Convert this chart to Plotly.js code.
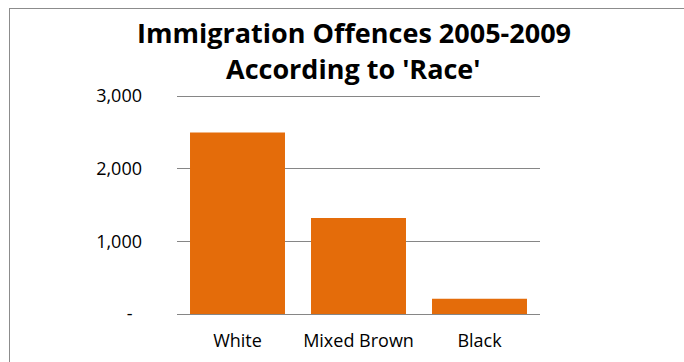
<!DOCTYPE html>
<html>
<head>
<meta charset="utf-8">
<script src="https://cdn.plot.ly/plotly-3.0.1.min.js"></script>
<style>
  html, body { margin: 0; padding: 0; background: #fff; }
  #wrap { position: relative; width: 684px; height: 362px; overflow: hidden; }
  #chart { width: 684px; height: 362px; }
  #frame { position: absolute; left: 9px; top: 8px; width: 700px; height: 400px;
           border-left: 1.5px solid #8c8c8c; border-top: 1.5px solid #8c8c8c; pointer-events: none; }
</style>
</head>
<body>
<div id="wrap">
  <div id="chart"></div>
  <div id="frame"></div>
</div>
<script>
const categories = ['White', 'Mixed Brown', 'Black'];
const offences = [2500, 1320, 210];
const yTickVals = [0, 1000, 2000, 3000];
const yTickText = ['-\u00a0\u00a0', '1,000', '2,000', '3,000'];
const titleLines = ['Immigration Offences 2005-2009', "According to 'Race'"];

const trace = {
  type: 'bar',
  x: categories,
  y: offences,
  marker: { color: '#E46C0A' },
  hoverinfo: 'none'
};

const titleFont = { family: 'Open Sans, sans-serif', size: 27, color: '#000000', weight: 'bold' };

const layout = {
  width: 684,
  height: 362,
  margin: { l: 177, r: 144, t: 95, b: 48, pad: 0 },
  paper_bgcolor: '#ffffff',
  plot_bgcolor: '#ffffff',
  showlegend: false,
  bargap: 0.215,
  font: { family: 'Open Sans, sans-serif', size: 18, color: '#000000' },
  annotations: [
    { text: titleLines[0], xref: 'paper', yref: 'paper', x: 0.4876, y: 1.285,
      xanchor: 'center', yanchor: 'middle', showarrow: false, font: titleFont },
    { text: titleLines[1], xref: 'paper', yref: 'paper', x: 0.4876, y: 1.121,
      xanchor: 'center', yanchor: 'middle', showarrow: false, font: titleFont }
  ],
  xaxis: {
    showgrid: false,
    showline: false,
    zeroline: false,
    ticks: '',
    ticklabelstandoff: 14,
    tickfont: { family: 'Open Sans, sans-serif', size: 18, color: '#000000' }
  },
  yaxis: {
    range: [0, 3015],
    tickvals: yTickVals,
    ticktext: yTickText,
    showgrid: true,
    gridcolor: '#868686',
    gridwidth: 1,
    zeroline: true,
    zerolinecolor: '#868686',
    zerolinewidth: 1,
    showline: false,
    ticks: '',
    ticklabelstandoff: 34,
    tickfont: { family: 'Open Sans, sans-serif', size: 18, color: '#000000' }
  }
};

Plotly.newPlot('chart', [trace], layout, { staticPlot: true, displayModeBar: false });
</script>
</body>
</html>
